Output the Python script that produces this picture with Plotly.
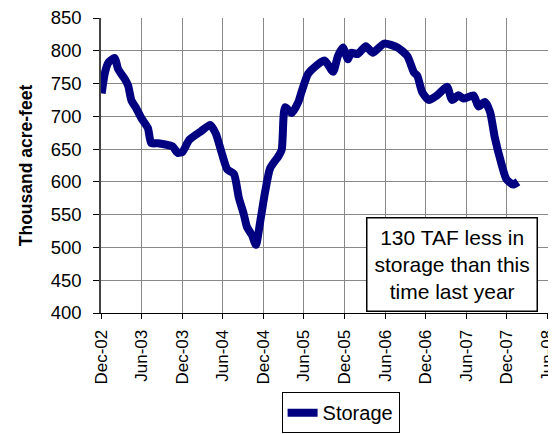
import plotly.graph_objects as go

# Reservoir storage, thousand acre-feet
dates = [
    "2002-12-04", "2002-12-19", "2003-01-03", "2003-02-01", "2003-02-16",
    "2003-03-18", "2003-04-02", "2003-04-17", "2003-05-09", "2003-06-01",
    "2003-06-30", "2003-07-15", "2003-08-14", "2003-10-19", "2003-11-11",
    "2003-12-03", "2004-01-02", "2004-02-23", "2004-04-05", "2004-04-30",
    "2004-05-29", "2004-06-21", "2004-07-21", "2004-08-12", "2004-09-03",
    "2004-09-18", "2004-10-10", "2004-10-28", "2004-11-17", "2004-12-09",
    "2004-12-31", "2005-02-06", "2005-02-21", "2005-03-08", "2005-04-07",
    "2005-05-07", "2005-05-21", "2005-06-20", "2005-08-05", "2005-09-03",
    "2005-10-10", "2005-11-01", "2005-11-23", "2005-12-16", "2005-12-30",
    "2006-01-29", "2006-03-07", "2006-04-06", "2006-05-28", "2006-07-27",
    "2006-09-09", "2006-10-09", "2006-10-24", "2006-11-15", "2006-12-15",
    "2007-01-21", "2007-03-07", "2007-03-29", "2007-04-28", "2007-05-20",
    "2007-07-04", "2007-07-26", "2007-08-24", "2007-09-16", "2007-10-08",
    "2007-11-07", "2007-11-29", "2007-12-29", "2008-01-20",
]
storage = [
    735, 767, 782, 789, 772,
    757, 747, 724, 712, 697,
    682, 659, 659, 654, 644,
    646, 664, 677, 687, 674,
    642, 619, 612, 576, 551,
    531, 519, 504, 541, 586,
    621, 639, 649, 714, 705,
    722, 737, 765, 780, 785,
    768, 792, 805, 787, 797,
    795, 807, 797, 811, 805,
    792, 767, 762, 737, 725,
    732, 745, 725, 732, 727,
    732, 715, 722, 707, 667,
    627, 604, 596, 600,
]

note = "130 TAF less in<br>storage than this<br>time last year"

fig = go.Figure()
fig.add_trace(go.Scatter(
    x=dates, y=storage, mode="lines", name="Storage",
    line=dict(color="#000080", width=8, shape="spline", smoothing=0.6),
))

# page body has an 8px default margin, so the margins below are offset by it
fig.update_layout(
    width=556, height=434,
    margin=dict(l=93, r=16, t=10, b=128),
    paper_bgcolor="white", plot_bgcolor="white",
    font=dict(family="Arial, Liberation Sans, sans-serif", color="black"),
    showlegend=True,
    legend=dict(
        x=0.536, y=-0.264, xanchor="center", yanchor="top",
        bordercolor="black", borderwidth=1, font=dict(size=20),
    ),
)

fig.update_xaxes(
    type="date", range=["2002-12-01", "2008-06-03"],
    tick0="2002-12-01", dtick="M6", tickformat="%b-%y", tickangle=-90,
    tickfont=dict(size=17), ticklabelstandoff=4, ticklabeloverflow="allow",
    showgrid=True, gridcolor="#888888", gridwidth=1,
    showline=True, linecolor="black", linewidth=1,
    ticks="outside", ticklen=5, tickcolor="black",
    automargin=False,
)
fig.update_yaxes(
    range=[400, 850], dtick=50,
    tickfont=dict(size=18.5), ticklabelstandoff=8, ticklabeloverflow="allow",
    title=dict(text="<b>Thousand acre-feet</b>", font=dict(size=17.5), standoff=14),
    showgrid=True, gridcolor="#888888", gridwidth=1,
    showline=True, linecolor="#444444", linewidth=1.5,
    ticks="outside", ticklen=6, tickcolor="black",
    zeroline=False, automargin=False,
)

fig.add_annotation(
    x=0.786, y=0.166, xref="paper", yref="paper",
    xanchor="center", yanchor="middle",
    text=note, showarrow=False, align="center",
    font=dict(size=21), bordercolor="black", borderwidth=1.5,
    bgcolor="white", borderpad=7,
)

fig.write_html("out.html")
